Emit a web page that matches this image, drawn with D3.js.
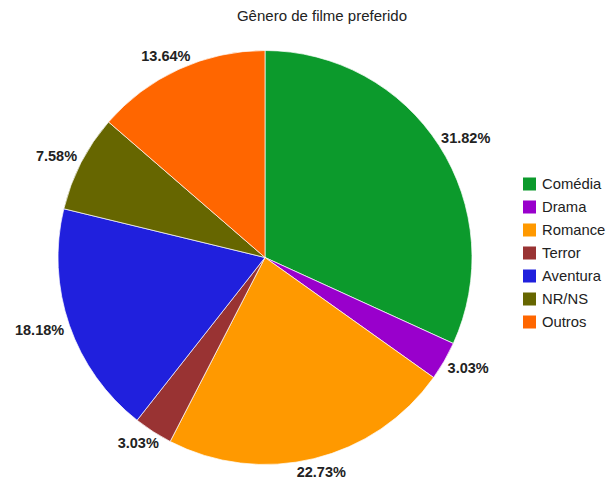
<!DOCTYPE html>
<html>
<head>
<meta charset="utf-8">
<script src="https://cdn.jsdelivr.net/npm/d3@7"></script>
<style>
  html, body { margin: 0; padding: 0; background: #fff; }
  svg { display: block; font-family: "Liberation Sans", Arial, sans-serif; }
</style>
</head>
<body>
<svg id="chart" width="607" height="481"></svg>
<script>
// Preferred film genre — survey answers (percent of respondents)
const title = "Gênero de filme preferido";
const categories = ["Comédia", "Drama", "Romance", "Terror", "Aventura", "NR/NS", "Outros"];
const percentages = [31.82, 3.03, 22.73, 3.03, 18.18, 7.58, 13.64];
const colors = ["#0c9a2c", "#9900cc", "#ff9900", "#993333", "#2020dd", "#666600", "#ff6600"];

const svg = d3.select("#chart");
const cx = 265, cy = 257.5, radius = 207;

svg.append("text")
  .attr("x", 322).attr("y", 21)
  .attr("text-anchor", "middle")
  .attr("font-size", 15)
  .attr("fill", "#222")
  .text(title);

const data = categories.map((c, i) => ({ name: c, value: percentages[i], color: colors[i] }));

const pie = d3.pie().value(d => d.value).sort(null);
const arc = d3.arc().innerRadius(0).outerRadius(radius);
const arcs = pie(data);

const g = svg.append("g").attr("transform", `translate(${cx},${cy})`);

g.selectAll("path.slice")
  .data(arcs)
  .join("path")
  .attr("class", "slice")
  .attr("d", arc)
  .attr("fill", d => d.data.color)
  .attr("stroke", "#fff")
  .attr("stroke-width", 0.7);

// Percentage labels placed outside, pushed out by half the text box
const labelR = 214, halfH = 7;
const labels = g.selectAll("text.pct")
  .data(arcs)
  .join("text")
  .attr("class", "pct")
  .attr("text-anchor", "middle")
  .attr("font-size", 14.5)
  .attr("font-weight", "bold")
  .attr("fill", "#222")
  .text(d => d.data.value.toFixed(2) + "%");

labels.each(function(d) {
  const a = (d.startAngle + d.endAngle) / 2;
  const dx = Math.sin(a), dy = -Math.cos(a);
  const halfW = this.getComputedTextLength() / 2;
  const x = dx * (labelR + halfW);
  const y = dy * (labelR + halfH);
  d3.select(this).attr("x", x).attr("y", y + 5);
});

// Legend
const legend = svg.append("g").attr("transform", "translate(523,184)");
const rowH = 23;
const item = legend.selectAll("g.item")
  .data(data)
  .join("g")
  .attr("class", "item")
  .attr("transform", (d, i) => `translate(0,${i * rowH})`);

item.append("rect")
  .attr("x", 0).attr("y", -6.5)
  .attr("width", 13).attr("height", 13)
  .attr("fill", d => d.color);

item.append("text")
  .attr("x", 19).attr("y", 5)
  .attr("font-size", 14.8)
  .attr("fill", "#222")
  .text(d => d.name);
</script>
</body>
</html>
